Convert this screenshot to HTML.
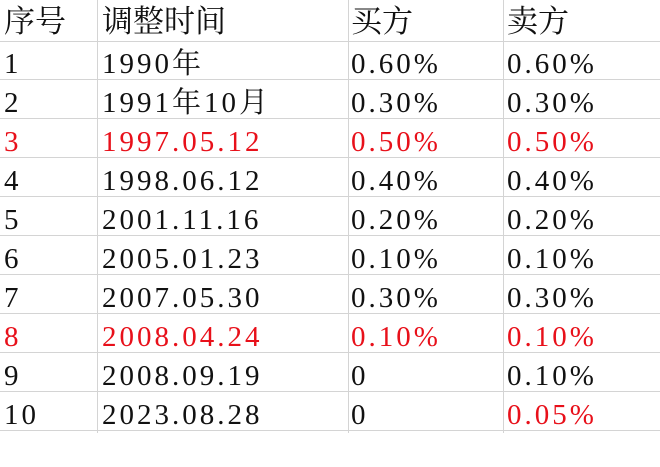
<!DOCTYPE html>
<html><head><meta charset="utf-8"><style>
body{margin:0;background:#fff;width:660px;height:467px;overflow:hidden;font-family:"Liberation Serif","Noto Serif CJK SC",serif;}
.r{position:absolute;left:0;width:660px;height:39px;border-bottom:1px solid #d4d4d4;}
.c{position:absolute;top:0;height:39px;line-height:46px;font-size:29px;letter-spacing:3px;color:#111;white-space:nowrap}
.v{position:absolute;top:0;width:1px;height:433px;background:#d4d4d4}
</style></head><body>
<div class="v" style="left:97px"></div>
<div class="v" style="left:348px"></div>
<div class="v" style="left:503px"></div>
<div id="t"></div>
<script>
var rows=[["序号","调整时间","买方","卖方",0],
["1","1990年","0.60%","0.60%",0],
["2","1991年10月","0.30%","0.30%",0],
["3","1997.05.12","0.50%","0.50%",1],
["4","1998.06.12","0.40%","0.40%",0],
["5","2001.11.16","0.20%","0.20%",0],
["6","2005.01.23","0.10%","0.10%",0],
["7","2007.05.30","0.30%","0.30%",0],
["8","2008.04.24","0.10%","0.10%",1],
["9","2008.09.19","0","0.10%",0],
["10","2023.08.28","0","0.05%",2]];
var h="",x=[4,102,351,507];
rows.forEach(function(r,i){
 var top=i==0?2:41+(i-1)*39;var hh=i==0?39:38;
 h+='<div class="r" style="top:'+top+'px;height:'+hh+'px">';
 for(var j=0;j<4;j++){var col=(r[4]==1||(r[4]==2&&j==3))?"#e8101a":"#111";
 h+='<div class="c" style="left:'+x[j]+'px;color:'+col+(i==0?';line-height:40px;font-size:31px;letter-spacing:0':'')+'">'+r[j]+'</div>';}
 h+='</div>';
});
document.getElementById("t").innerHTML=h;
</script>
</body></html>
